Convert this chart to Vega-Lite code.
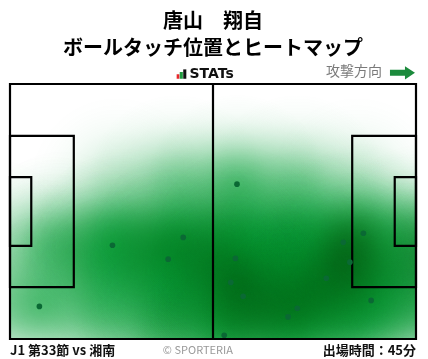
{
  "$schema": "https://vega.github.io/schema/vega-lite/v6.json",
  "width": 406,
  "height": 255,
  "autosize": "none",
  "padding": {"left": 10, "top": 84, "right": 12, "bottom": 20},
  "background": "white",
  "config": {"view": {"stroke": null}},
  "title": {
    "text": ["唐山　翔自", "ボールタッチ位置とヒートマップ"],
    "font": "Noto Sans CJK JP",
    "fontSize": 20,
    "fontWeight": "bold",
    "color": "#000000",
    "anchor": "middle",
    "frame": "group",
    "lineHeight": 27,
    "offset": 6
  },
  "datasets": {
    "touches": [
      {"x": 26.5, "y": 25.0},
      {"x": 44.8, "y": 27.1},
      {"x": 40.9, "y": 21.3},
      {"x": 7.6, "y": 8.7},
      {"x": 58.7, "y": 41.3},
      {"x": 91.4, "y": 28.2},
      {"x": 86.2, "y": 25.8},
      {"x": 58.3, "y": 21.5},
      {"x": 87.9, "y": 20.5},
      {"x": 93.4, "y": 10.3},
      {"x": 81.8, "y": 16.2},
      {"x": 57.1, "y": 15.1},
      {"x": 60.3, "y": 11.4},
      {"x": 74.3, "y": 8.2},
      {"x": 71.9, "y": 5.9},
      {"x": 55.4, "y": 1.0}
    ],
    "pitch": [
      {"x1": 0, "x2": 105, "y1": 0, "y2": 68},
      {"x1": 0, "x2": 16.5, "y1": 13.84, "y2": 54.16},
      {"x1": 0, "x2": 5.5, "y1": 24.84, "y2": 43.16},
      {"x1": 88.5, "x2": 105, "y1": 13.84, "y2": 54.16},
      {"x1": 99.5, "x2": 105, "y1": 24.84, "y2": 43.16},
      {"x1": 52.5, "x2": 52.5, "y1": 0, "y2": 68}
    ]
  },
  "layer": [
    {
      "data": {"name": "touches"},
      "mark": {"type": "point", "shape": "circle", "size": 32400, "filled": true, "opacity": 1, "strokeWidth": 0, "blend": "multiply", "clip": true, "xOffset": -120,
        "fill": {"gradient": "radial", "x1": 0.5, "y1": 0.5, "r1": 0, "x2": 0.5, "y2": 0.5, "r2": 0.5, "stops": [
          {"offset": 0, "color": "rgba(0,158,51,0.200)"}, {"offset": 0.1, "color": "rgba(0,158,51,0.191)"}, {"offset": 0.2, "color": "rgba(0,158,51,0.167)"}, {"offset": 0.3, "color": "rgba(0,158,51,0.133)"}, {"offset": 0.4, "color": "rgba(0,158,51,0.097)"}, {"offset": 0.5, "color": "rgba(0,158,51,0.065)"}, {"offset": 0.6, "color": "rgba(0,158,51,0.040)"}, {"offset": 0.7, "color": "rgba(0,158,51,0.022)"}, {"offset": 0.8, "color": "rgba(0,158,51,0.011)"}, {"offset": 0.9, "color": "rgba(0,158,51,0.005)"}, {"offset": 1, "color": "rgba(0,158,51,0)"}]}},
      "encoding": {
        "x": {"field": "x", "type": "quantitative", "scale": {"domain": [0, 105], "nice": false, "zero": false}, "axis": null},
        "y": {"field": "y", "type": "quantitative", "scale": {"domain": [0, 68], "nice": false, "zero": false}, "axis": null}
      }
    },
    {
      "data": {"name": "touches"},
      "mark": {"type": "point", "shape": "circle", "size": 32400, "filled": true, "opacity": 1, "strokeWidth": 0, "blend": "multiply", "clip": true, "xOffset": 120,
        "fill": {"gradient": "radial", "x1": 0.5, "y1": 0.5, "r1": 0, "x2": 0.5, "y2": 0.5, "r2": 0.5, "stops": [
          {"offset": 0, "color": "rgba(0,158,51,0.200)"}, {"offset": 0.1, "color": "rgba(0,158,51,0.191)"}, {"offset": 0.2, "color": "rgba(0,158,51,0.167)"}, {"offset": 0.3, "color": "rgba(0,158,51,0.133)"}, {"offset": 0.4, "color": "rgba(0,158,51,0.097)"}, {"offset": 0.5, "color": "rgba(0,158,51,0.065)"}, {"offset": 0.6, "color": "rgba(0,158,51,0.040)"}, {"offset": 0.7, "color": "rgba(0,158,51,0.022)"}, {"offset": 0.8, "color": "rgba(0,158,51,0.011)"}, {"offset": 0.9, "color": "rgba(0,158,51,0.005)"}, {"offset": 1, "color": "rgba(0,158,51,0)"}]}},
      "encoding": {
        "x": {"field": "x", "type": "quantitative"},
        "y": {"field": "y", "type": "quantitative"}
      }
    },
    {
      "data": {"name": "touches"},
      "mark": {"type": "point", "shape": "circle", "size": 32400, "filled": true, "opacity": 1, "strokeWidth": 0, "blend": "multiply", "clip": true, "xOffset": -60,
        "fill": {"gradient": "radial", "x1": 0.5, "y1": 0.5, "r1": 0, "x2": 0.5, "y2": 0.5, "r2": 0.5, "stops": [
          {"offset": 0, "color": "rgba(0,158,51,0.430)"}, {"offset": 0.1, "color": "rgba(0,158,51,0.411)"}, {"offset": 0.2, "color": "rgba(0,158,51,0.359)"}, {"offset": 0.3, "color": "rgba(0,158,51,0.287)"}, {"offset": 0.4, "color": "rgba(0,158,51,0.209)"}, {"offset": 0.5, "color": "rgba(0,158,51,0.140)"}, {"offset": 0.6, "color": "rgba(0,158,51,0.085)"}, {"offset": 0.7, "color": "rgba(0,158,51,0.047)"}, {"offset": 0.8, "color": "rgba(0,158,51,0.024)"}, {"offset": 0.9, "color": "rgba(0,158,51,0.011)"}, {"offset": 1, "color": "rgba(0,158,51,0)"}]}},
      "encoding": {
        "x": {"field": "x", "type": "quantitative"},
        "y": {"field": "y", "type": "quantitative"}
      }
    },
    {
      "data": {"name": "touches"},
      "mark": {"type": "point", "shape": "circle", "size": 32400, "filled": true, "opacity": 1, "strokeWidth": 0, "blend": "multiply", "clip": true, "xOffset": 60,
        "fill": {"gradient": "radial", "x1": 0.5, "y1": 0.5, "r1": 0, "x2": 0.5, "y2": 0.5, "r2": 0.5, "stops": [
          {"offset": 0, "color": "rgba(0,158,51,0.430)"}, {"offset": 0.1, "color": "rgba(0,158,51,0.411)"}, {"offset": 0.2, "color": "rgba(0,158,51,0.359)"}, {"offset": 0.3, "color": "rgba(0,158,51,0.287)"}, {"offset": 0.4, "color": "rgba(0,158,51,0.209)"}, {"offset": 0.5, "color": "rgba(0,158,51,0.140)"}, {"offset": 0.6, "color": "rgba(0,158,51,0.085)"}, {"offset": 0.7, "color": "rgba(0,158,51,0.047)"}, {"offset": 0.8, "color": "rgba(0,158,51,0.024)"}, {"offset": 0.9, "color": "rgba(0,158,51,0.011)"}, {"offset": 1, "color": "rgba(0,158,51,0)"}]}},
      "encoding": {
        "x": {"field": "x", "type": "quantitative"},
        "y": {"field": "y", "type": "quantitative"}
      }
    },
    {
      "data": {"name": "touches"},
      "mark": {"type": "point", "shape": "circle", "size": 32400, "filled": true, "opacity": 1, "strokeWidth": 0, "blend": "multiply", "clip": true,
        "fill": {"gradient": "radial", "x1": 0.5, "y1": 0.5, "r1": 0, "x2": 0.5, "y2": 0.5, "r2": 0.5, "stops": [
          {"offset": 0, "color": "rgba(0,158,51,0.580)"}, {"offset": 0.1, "color": "rgba(0,158,51,0.554)"}, {"offset": 0.2, "color": "rgba(0,158,51,0.484)"}, {"offset": 0.3, "color": "rgba(0,158,51,0.387)"}, {"offset": 0.4, "color": "rgba(0,158,51,0.282)"}, {"offset": 0.5, "color": "rgba(0,158,51,0.189)"}, {"offset": 0.6, "color": "rgba(0,158,51,0.115)"}, {"offset": 0.7, "color": "rgba(0,158,51,0.064)"}, {"offset": 0.8, "color": "rgba(0,158,51,0.032)"}, {"offset": 0.9, "color": "rgba(0,158,51,0.015)"}, {"offset": 1, "color": "rgba(0,158,51,0)"}]}},
      "encoding": {
        "x": {"field": "x", "type": "quantitative"},
        "y": {"field": "y", "type": "quantitative"}
      }
    },
    {
      "data": {"name": "pitch"},
      "mark": {"type": "rect", "filled": false, "stroke": "#000000", "strokeWidth": 2.2, "clip": false},
      "encoding": {
        "x": {"field": "x1", "type": "quantitative"},
        "x2": {"field": "x2"},
        "y": {"field": "y1", "type": "quantitative"},
        "y2": {"field": "y2"}
      }
    },
    {
      "data": {"name": "touches"},
      "mark": {"type": "circle", "size": 32, "color": "#0a6934", "opacity": 1},
      "encoding": {
        "x": {"field": "x", "type": "quantitative"},
        "y": {"field": "y", "type": "quantitative"}
      }
    },
    {
      "data": {"values": [{}]},
      "mark": {"type": "rect", "color": "#e8262b"},
      "encoding": {
        "x": {"datum": 43.1, "type": "quantitative"}, "x2": {"datum": 43.8},
        "y": {"datum": 69.4, "type": "quantitative"}, "y2": {"datum": 70.6}
      }
    },
    {
      "data": {"values": [{}]},
      "mark": {"type": "rect", "color": "#1f9a3e"},
      "encoding": {
        "x": {"datum": 43.9, "type": "quantitative"}, "x2": {"datum": 44.7},
        "y": {"datum": 69.4, "type": "quantitative"}, "y2": {"datum": 71.2}
      }
    },
    {
      "data": {"values": [{}]},
      "mark": {"type": "rect", "color": "#111111"},
      "encoding": {
        "x": {"datum": 44.8, "type": "quantitative"}, "x2": {"datum": 45.6},
        "y": {"datum": 69.4, "type": "quantitative"}, "y2": {"datum": 71.9}
      }
    },
    {
      "data": {"values": [{}]},
      "mark": {"type": "text", "text": "STATs", "font": "DejaVu Sans", "fontWeight": "bold", "fontSize": 14, "letterSpacing": 2.6, "align": "left", "baseline": "middle", "color": "#111111"},
      "encoding": {
        "x": {"datum": 46.4, "type": "quantitative"},
        "y": {"datum": 70.7, "type": "quantitative"}
      }
    },
    {
      "data": {"values": [{}]},
      "mark": {"type": "text", "text": "攻撃方向", "font": "Noto Sans CJK JP", "fontSize": 14, "align": "right", "baseline": "middle", "color": "#7a7a7a"},
      "encoding": {
        "x": {"datum": 96.2, "type": "quantitative"},
        "y": {"datum": 71.1, "type": "quantitative"}
      }
    },
    {
      "data": {"values": [{}]},
      "mark": {"type": "point", "shape": "M-1,-0.24L0.2,-0.24L0.2,-0.53L1,0L0.2,0.53L0.2,0.24L-1,0.24Z", "size": 625, "filled": true, "opacity": 1, "strokeWidth": 0, "color": "#1b8a3c"},
      "encoding": {
        "x": {"datum": 101.5, "type": "quantitative"},
        "y": {"datum": 71.0, "type": "quantitative"}
      }
    },
    {
      "data": {"values": [{}]},
      "mark": {"type": "text", "text": "J1 第33節 vs 湘南", "font": "Noto Sans CJK JP", "fontWeight": "bold", "fontSize": 13, "align": "left", "baseline": "middle", "color": "#111111"},
      "encoding": {
        "x": {"datum": 0, "type": "quantitative"},
        "y": {"datum": -3.07, "type": "quantitative"}
      }
    },
    {
      "data": {"values": [{}]},
      "mark": {"type": "text", "text": "© SPORTERIA", "font": "Noto Sans CJK JP", "fontSize": 11, "align": "center", "baseline": "middle", "color": "#999999"},
      "encoding": {
        "x": {"datum": 48.6, "type": "quantitative"},
        "y": {"datum": -3.07, "type": "quantitative"}
      }
    },
    {
      "data": {"values": [{}]},
      "mark": {"type": "text", "text": "出場時間：45分", "font": "Noto Sans CJK JP", "fontWeight": "bold", "fontSize": 13, "align": "right", "baseline": "middle", "color": "#111111"},
      "encoding": {
        "x": {"datum": 105, "type": "quantitative"},
        "y": {"datum": -3.07, "type": "quantitative"}
      }
    }
  ]
}
